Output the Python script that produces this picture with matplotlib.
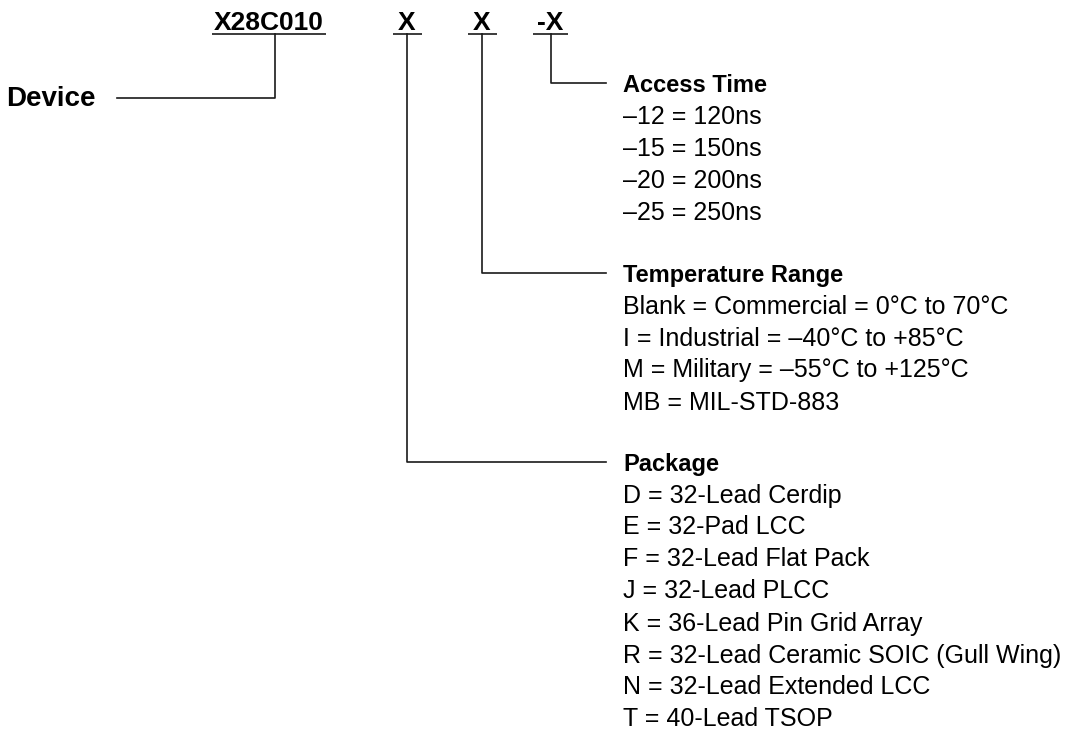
import matplotlib
matplotlib.use('Agg')
import matplotlib.pyplot as plt

plt.rcParams['font.family'] = ['Liberation Sans', 'DejaVu Sans']

# part number fields
part_fields = ['X28C010', 'X', 'X', '-X']
field_x = [269, 407, 482, 550]          # text centres
field_ul = [(212, 326), (393, 422), (468, 497), (533, 568)]
field_stem = [275, 407, 482, 551]

device_label = 'Device'

# option groups: header, items
access_title = 'Access Time'
access_items = ['\u201312 = 120ns', '\u201315 = 150ns',
                '\u201320 = 200ns', '\u201325 = 250ns']

temp_title = 'Temperature Range'
temp_items = ['Blank = Commercial = 0\u00b0C to 70\u00b0C',
              'I = Industrial = \u201340\u00b0C to +85\u00b0C',
              'M = Military = \u201355\u00b0C to +125\u00b0C',
              'MB = MIL-STD-883']

pkg_title = 'Package'
pkg_items = ['D = 32-Lead Cerdip', 'E = 32-Pad LCC',
             'F = 32-Lead Flat Pack', 'J = 32-Lead PLCC',
             'K = 36-Lead Pin Grid Array',
             'R = 32-Lead Ceramic SOIC (Gull Wing)',
             'N = 32-Lead Extended LCC', 'T = 40-Lead TSOP']

fig = plt.figure(figsize=(10.67, 7.30), dpi=100)
ax = fig.add_axes([0, 0, 1, 1])
ax.set_xlim(0, 1067)
ax.set_ylim(730, 0)
ax.axis('off')

lc = '#1a1a1a'
lw = 1.2
ul_y = 33.5
fs_field = 19
fs_title = 17
fs_body = 18

# header fields with underlines
for lab, x, (x0, x1) in zip(part_fields, field_x, field_ul):
    ax.text(x, 29.5, lab, ha='center', va='baseline', fontsize=fs_field,
            fontweight='bold', color='black')
    ax.plot([x0, x1], [ul_y, ul_y], color=lc, lw=lw, solid_capstyle='butt')

# device leader
ax.text(6, 106, device_label, ha='left', va='baseline', fontsize=20,
        fontweight='bold', color='black')
ax.plot([117, field_stem[0], field_stem[0]], [98, 98, ul_y], color=lc, lw=lw)

text_x = 623
line_end = 606
step = 32.0

groups = [(access_title, access_items, field_stem[3], 92),
          (temp_title, temp_items, field_stem[2], 282),
          (pkg_title, pkg_items, field_stem[1], 471)]

for title, items, stem, base in groups:
    ly = base - 9.5
    ax.plot([stem, stem, line_end], [ul_y, ly, ly], color=lc, lw=lw)
    ax.text(text_x, base, title, ha='left', va='baseline', fontsize=fs_title,
            fontweight='bold', color='black')
    for i, it in enumerate(items):
        ax.text(text_x, base + step * (i + 1) - 0.5, it, ha='left',
                va='baseline', fontsize=fs_body, color='black')

fig.savefig('out.png', dpi=100)
